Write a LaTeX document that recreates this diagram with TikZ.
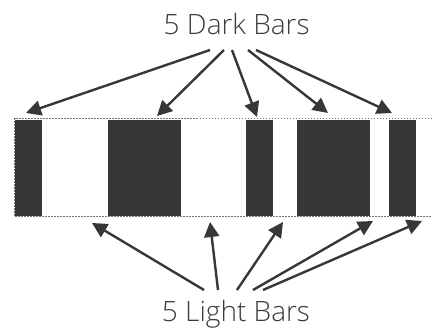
\documentclass[tikz,border=0pt]{standalone}
\usepackage{fontspec}
\setmainfont{Open Sans Light}
\usetikzlibrary{arrows.meta}
\definecolor{bar}{HTML}{383638}
\definecolor{txt}{HTML}{3C3C3C}
\tikzset{
  darkbar/.style={fill=bar,draw=none},
  edge/.style={draw=gray!90!black,line width=1pt,dash pattern=on 1.5pt off 1.5pt},
  pointer/.style={draw=bar,line width=2.4pt,-{Triangle[length=15pt,width=15pt]},shorten >=0pt},
  label/.style={font=\fontsize{28}{30}\selectfont,text=txt,inner sep=0pt,anchor=base}
}
\begin{document}
\begin{tikzpicture}[x=1pt,y=-1pt]
\useasboundingbox (0,0) rectangle (432,331);
% bars
\fill[darkbar] (14.7,120) rectangle (41.7,216);
\fill[darkbar] (108,120) rectangle (181,216);
\fill[darkbar] (246,120) rectangle (273,216);
\fill[darkbar] (297,120) rectangle (370,216);
\fill[darkbar] (389,120) rectangle (416,216);
% dashed borders
\draw[edge] (432,119) -- (14.5,119) -- (14.5,217) -- (432,217);
% labels
\node[label] (dark) at (236.7,35) {5 Dark Bars};
\node[label] (light) at (236,321.7) {5 Light Bars};
% dark arrow tips
\coordinate (d1) at (26,113);
\coordinate (d2) at (157,116);
\coordinate (d3) at (257,117);
\coordinate (d4) at (328,113);
\coordinate (d5) at (392,113);
% dark arrow starts
\coordinate (ds1) at (210,50);
\coordinate (ds2) at (224,50);
\coordinate (ds3) at (232,50);
\coordinate (ds4) at (248,50);
\coordinate (ds5) at (256,50);
% light arrow tips
\coordinate (l1) at (92,223);
\coordinate (l2) at (210,222);
\coordinate (l3) at (283,222);
\coordinate (l4) at (373,221);
\coordinate (l5) at (422,221);
% light arrow starts
\coordinate (ls1) at (204,290);
\coordinate (ls2) at (218,290);
\coordinate (ls3) at (237,290);
\coordinate (ls4) at (253,290);
\coordinate (ls5) at (263,290);
\foreach \i in {1,...,5} {
  \draw[pointer] (ds\i) -- (d\i);
  \draw[pointer] (ls\i) -- (l\i);
}
\end{tikzpicture}
\end{document}
